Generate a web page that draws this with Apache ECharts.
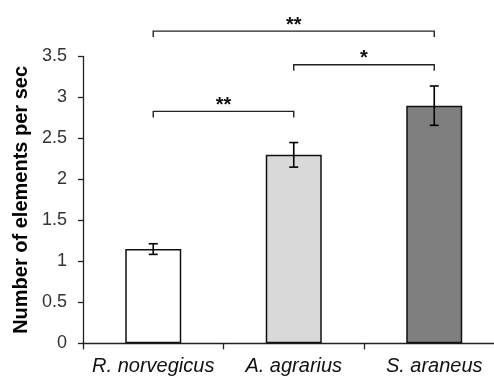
<!DOCTYPE html>
<html>
<head>
<meta charset="utf-8">
<script src="https://cdn.jsdelivr.net/npm/echarts@6/dist/echarts.min.js"></script>
<style>
    html, body { margin: 0; padding: 0; background: #fff; }
    #chart { width: 494px; height: 379px; }
</style>
</head>
<body>
<div id="chart"></div>
<script>
    // species and mean rates
    var species = ['R. norvegicus', 'A. agrarius', 'S. araneus'];
    var means = [1.15, 2.30, 2.90];
    var errors = [0.065, 0.15, 0.24];
    var barColors = ['#ffffff', '#d9d9d9', '#7f7f7f'];
    var yTicks = [0, 0.5, 1, 1.5, 2, 2.5, 3, 3.5];

    // significance brackets: [from category, to category, level]
    var brackets = [[0, 2, 3.81], [1, 2, 3.40], [0, 1, 2.83]];
    var bracketLabels = ['**', '*', '**'];

    var chart = echarts.init(document.getElementById('chart'));

    var barData = [];
    var errData = [];
    for (var i = 0; i < species.length; i++) {
        barData.push({ value: means[i], itemStyle: { color: barColors[i] } });
        errData.push([i, means[i] - errors[i], means[i] + errors[i]]);
    }

    var option = {
        animation: false,
        backgroundColor: '#fff',
        grid: {
            left: 83,
            right: -10.5,
            top: 56.5,
            bottom: 35.7,
            containLabel: false,
            outerBoundsMode: 'none'
        },
        xAxis: {
            type: 'category',
            data: species,
            axisLine: { lineStyle: { color: '#222', width: 1.3 } },
            axisTick: { show: true, alignWithLabel: false, length: 6, lineStyle: { color: '#222', width: 1.3 } },
            axisLabel: {
                fontFamily: 'Liberation Sans, Arial, sans-serif',
                fontStyle: 'italic',
                fontSize: 20,
                color: '#111',
                margin: 13,
                interval: 0
            },
            splitLine: { show: false }
        },
        yAxis: {
            type: 'value',
            min: 0,
            max: yTicks[yTicks.length - 1],
            interval: 0.5,
            name: 'Number of elements per sec',
            nameLocation: 'middle',
            nameGap: 49,
            nameTextStyle: {
                fontFamily: 'Liberation Sans, Arial, sans-serif',
                fontWeight: 'bold',
                fontSize: 20,
                color: '#000'
            },
            axisLine: { show: true, lineStyle: { color: '#222', width: 1.3 } },
            axisTick: { show: true, inside: false, length: 5, lineStyle: { color: '#222', width: 1.3 } },
            axisLabel: {
                fontFamily: 'Liberation Sans, Arial, sans-serif',
                fontSize: 18,
                color: '#333',
                margin: 16
            },
            splitLine: { show: false }
        },
        series: [
            {
                type: 'bar',
                data: barData,
                barWidth: 56,
                itemStyle: { borderColor: '#111', borderWidth: 1.5 }
            },
            {
                // error bars
                type: 'custom',
                data: errData,
                encode: { x: 0, y: [1, 2] },
                z: 5,
                renderItem: function (params, api) {
                    var lo = api.coord([api.value(0), api.value(1)]);
                    var hi = api.coord([api.value(0), api.value(2)]);
                    var hw = 4.5;
                    var st = { stroke: '#000', lineWidth: 1.6 };
                    return {
                        type: 'group',
                        children: [
                            { type: 'line', shape: { x1: lo[0], y1: lo[1], x2: hi[0], y2: hi[1] }, style: st },
                            { type: 'line', shape: { x1: hi[0] - hw, y1: hi[1], x2: hi[0] + hw, y2: hi[1] }, style: st },
                            { type: 'line', shape: { x1: lo[0] - hw, y1: lo[1], x2: lo[0] + hw, y2: lo[1] }, style: st }
                        ]
                    };
                }
            },
            {
                // significance brackets
                type: 'custom',
                data: brackets,
                encode: { x: 0, y: 2 },
                clip: false,
                z: 6,
                renderItem: function (params, api) {
                    var a = api.coord([api.value(0), api.value(2)]);
                    var b = api.coord([api.value(1), api.value(2)]);
                    var drop = 6;
                    var st = { stroke: '#222', lineWidth: 1.4, fill: null };
                    return {
                        type: 'group',
                        children: [
                            {
                                type: 'polyline',
                                shape: { points: [[a[0], a[1] + drop], [a[0], a[1]], [b[0], b[1]], [b[0], b[1] + drop]] },
                                style: st
                            },
                            {
                                type: 'text',
                                x: (a[0] + b[0]) / 2,
                                y: a[1] - 6,
                                style: {
                                    text: bracketLabels[params.dataIndex],
                                    align: 'center',
                                    verticalAlign: 'middle',
                                    font: 'bold 20px Liberation Sans, Arial, sans-serif',
                                    fill: '#111'
                                }
                            }
                        ]
                    };
                }
            }
        ]
    };

    chart.setOption(option);
</script>
</body>
</html>
